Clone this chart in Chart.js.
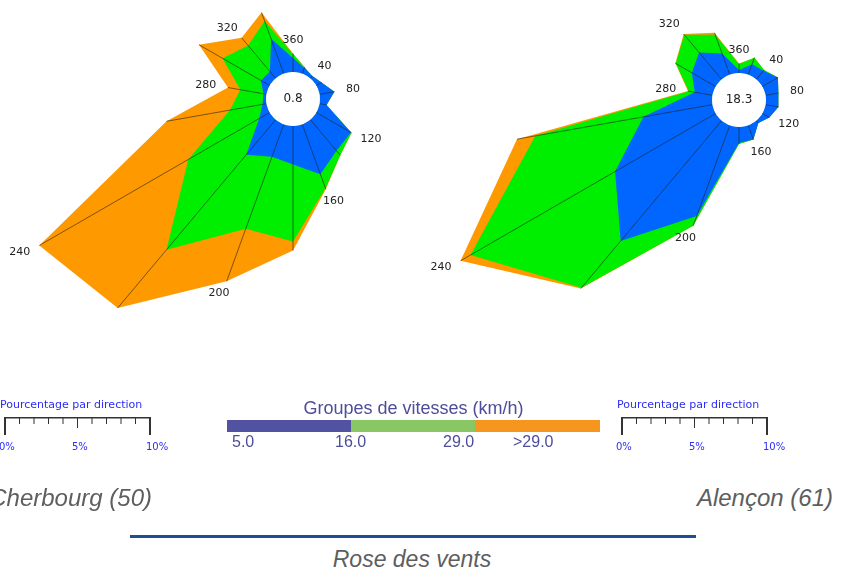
<!DOCTYPE html>
<html>
<head>
<meta charset="utf-8">
<script src="https://cdn.jsdelivr.net/npm/chart.js@4.4.1/dist/chart.umd.min.js"></script>
<style>
  body { margin: 0; width: 851px; height: 569px; overflow: hidden; background: #fff; position: relative; font-family: "Liberation Sans", Arial, sans-serif; }
  .rose { position: absolute; width: 700px; height: 700px; }
  .abs { position: absolute; white-space: nowrap; }
  .scale-title { font: 11px/11px "DejaVu Sans", sans-serif; color: #2d2df5; }
  .scale-lbl { font: 10px/10px "DejaVu Sans", sans-serif; color: #2d2df5; }
  .grp { color: #4d4d99; }
  .city { font: italic 24px/24px "Liberation Sans", Arial, sans-serif; color: #5e5e5e; }
</style>
</head>
<body>
<div class="rose" style="left:-57px;top:-251px"><canvas id="cherbourg" width="700" height="700"></canvas></div>
<div class="rose" style="left:389px;top:-250px"><canvas id="alencon" width="700" height="700"></canvas></div>

<!-- echelle gauche -->
<div class="abs scale-title" style="left:0;top:399px">Pourcentage par direction</div>
<svg class="abs" style="left:0;top:410px" width="160" height="30" id="bar1"></svg>
<div class="abs scale-lbl" style="left:-1px;top:442px">0%</div>
<div class="abs scale-lbl" style="left:72px;top:442px">5%</div>
<div class="abs scale-lbl" style="left:146px;top:442px">10%</div>

<!-- echelle droite -->
<div class="abs scale-title" style="left:617px;top:399px">Pourcentage par direction</div>
<svg class="abs" style="left:617px;top:410px" width="160" height="30" id="bar2"></svg>
<div class="abs scale-lbl" style="left:616px;top:442px">0%</div>
<div class="abs scale-lbl" style="left:689px;top:442px">5%</div>
<div class="abs scale-lbl" style="left:763px;top:442px">10%</div>

<!-- groupes de vitesses -->
<div class="abs grp" style="left:227px;width:373px;text-align:center;top:399px;font-size:18px;line-height:18px">Groupes de vitesses (km/h)</div>
<div class="abs" style="left:227px;top:420px;width:124px;height:12px;background:#5252a3"></div>
<div class="abs" style="left:351px;top:420px;width:124px;height:12px;background:#88c764"></div>
<div class="abs" style="left:475px;top:420px;width:125px;height:12px;background:#f7961f"></div>
<div class="abs grp" style="left:232px;top:434px;font-size:16px;line-height:16px">5.0</div>
<div class="abs grp" style="left:335px;top:434px;font-size:16px;line-height:16px">16.0</div>
<div class="abs grp" style="left:443px;top:434px;font-size:16px;line-height:16px">29.0</div>
<div class="abs grp" style="left:513px;top:434px;font-size:16px;line-height:16px">&gt;29.0</div>

<div class="abs city" style="right:699px;top:486px">Cherbourg (50)</div>
<div class="abs city" style="right:18px;top:486px">Alençon (61)</div>
<div class="abs" style="left:130px;top:535px;width:566px;height:3px;background:#1d4f91"></div>
<div class="abs city" style="left:0;width:824px;text-align:center;top:548px;font-size:23px;line-height:23px">Rose des vents</div>

<script>
// directions (degrés), en partant du nord, sens horaire
const directions = [360, 20, 40, 60, 80, 100, 120, 140, 160, 180, 200, 220, 240, 260, 280, 300, 320, 340];
const labelled = [360, 40, 80, 120, 160, 200, 240, 280, 320];

// Cherbourg (50) - % par direction et par groupe de vitesse
const cherbourgSlow = [1.01, 0.43, 0.22, 0.43, 1.09, 0.51, 2.90, 2.95, 3.84, 2.79, 2.50, 3.31, 0.87, 0.29, 0.22, 0.72, 0.65, 2.68];
const cherbourgMid  = [0.29, 0.07, 0.00, 0.00, 0.00, 0.00, 0.04, 0.42, 1.09, 5.58, 5.54, 8.99, 5.94, 2.39, 1.70, 3.22, 2.46, 1.38];
const cherbourgFast = [0.04, 0.00, 0.00, 0.00, 0.00, 0.00, 0.00, 0.00, 0.07, 0.65, 4.06, 5.51, 12.46, 4.67, 0.91, 1.97, 0.72, 0.65];
const cherbourgCalm = 0.8;

// Alençon (61)
const alenconSlow = [0.22, 0.80, 0.80, 1.30, 0.94, 0.94, 0.58, 0.22, 1.09, 1.16, 6.99, 11.38, 8.41, 5.07, 1.30, 1.99, 2.54, 1.63];
const alenconMid  = [0.43, 0.51, 0.07, 0.00, 0.00, 0.00, 0.00, 0.00, 0.00, 0.07, 0.76, 4.42, 12.10, 7.97, 0.43, 1.34, 1.67, 1.45];
const alenconFast = [0.04, 0.00, 0.00, 0.00, 0.00, 0.00, 0.00, 0.00, 0.00, 0.00, 0.00, 0.07, 0.83, 1.34, 0.07, 0.04, 0.07, 0.14];
const alenconCalm = 18.3;

const COLORS = ['#0066ff', '#00ee00', '#ff9900'];
const PX_PER_PCT = 13.8;   // pixels par %
const HOLE = 27;           // rayon du cercle des calmes
const SIZE = 700;

// traits radiaux, cercle central et étiquettes des directions
const roseDecor = {
  id: 'roseDecor',
  afterDatasetsDraw(chart, args, opts) {
    const {ctx} = chart;
    const r = chart.scales.r;
    ctx.save();
    ctx.strokeStyle = '#222';
    ctx.lineWidth = 0.6;
    opts.totals.forEach((t, i) => {
      const a = r.getPointPositionForValue(i, 0);
      const b = r.getPointPositionForValue(i, t);
      ctx.beginPath();
      ctx.moveTo(a.x, a.y);
      ctx.lineTo(b.x, b.y);
      ctx.stroke();
    });

    ctx.fillStyle = '#fff';
    ctx.beginPath();
    ctx.arc(r.xCenter, r.yCenter, r.getDistanceFromCenterForValue(0), 0, Math.PI * 2);
    ctx.fill();

    ctx.fillStyle = '#222';
    ctx.textAlign = 'center';
    ctx.textBaseline = 'middle';
    ctx.font = '12px "DejaVu Sans"';
    ctx.fillText(opts.calm.toFixed(1), r.xCenter, r.yCenter);

    // étiquette juste au-delà de la pointe, décalée selon la largeur du texte
    ctx.font = '11px "DejaVu Sans"';
    opts.totals.forEach((t, i) => {
      if (!labelled.includes(directions[i])) return;
      const tip = r.getPointPositionForValue(i, t);
      const rad = directions[i] * Math.PI / 180;
      const txt = String(directions[i]);
      const half = ctx.measureText(txt).width / 2;
      const x = tip.x + Math.sin(rad) * (12 + half);
      const y = tip.y - Math.cos(rad) * 13;
      ctx.fillText(txt, x, y);
    });
    ctx.restore();
  }
};

function makeRose(id, slow, mid, fast, calm) {
  const lvl1 = slow;
  const lvl2 = slow.map((v, i) => v + mid[i]);
  const lvl3 = lvl2.map((v, i) => v + fast[i]);
  new Chart(document.getElementById(id), {
    type: 'radar',
    data: {
      labels: directions.map(String),
      datasets: [
        {data: lvl1, backgroundColor: COLORS[0], fill: 'origin'},
        {data: lvl2, backgroundColor: COLORS[1], fill: 'origin'},
        {data: lvl3, backgroundColor: COLORS[2], fill: 'origin'}
      ]
    },
    options: {
      responsive: false,
      animation: false,
      layout: {padding: 0},
      elements: {
        line: {borderWidth: 0, tension: 0},
        point: {radius: 0, hoverRadius: 0}
      },
      scales: {
        r: {
          min: -HOLE / PX_PER_PCT,
          max: (SIZE / 2 - HOLE) / PX_PER_PCT,
          beginAtZero: false,
          grid: {display: false},
          angleLines: {display: false},
          ticks: {display: false},
          pointLabels: {display: false}
        }
      },
      plugins: {
        legend: {display: false},
        tooltip: {enabled: false},
        roseDecor: {totals: lvl3, calm: calm}
      }
    },
    plugins: [roseDecor]
  });
}

makeRose('cherbourg', cherbourgSlow, cherbourgMid, cherbourgFast, cherbourgCalm);
makeRose('alencon', alenconSlow, alenconMid, alenconFast, alenconCalm);

// barres d'échelle (0 - 10 %)
function drawScaleBar(id) {
  const svg = document.getElementById(id);
  const x0 = 5, step = 14.5;
  let html = `<line x1="${x0}" y1="7.7" x2="${x0 + step * 10}" y2="7.7" stroke="#333" stroke-width="1.5"/>`;
  for (let i = 0; i <= 10; i++) {
    const x = x0 + step * i;
    const end = (i === 0 || i === 10) ? 25 : (i === 5 ? 18 : 14);
    const w = (i === 0 || i === 10) ? 2 : 1;
    html += `<line x1="${x}" y1="7" x2="${x}" y2="${end}" stroke="#333" stroke-width="${w}"/>`;
  }
  svg.innerHTML = html;
}
drawScaleBar('bar1');
drawScaleBar('bar2');
</script>
</body>
</html>
